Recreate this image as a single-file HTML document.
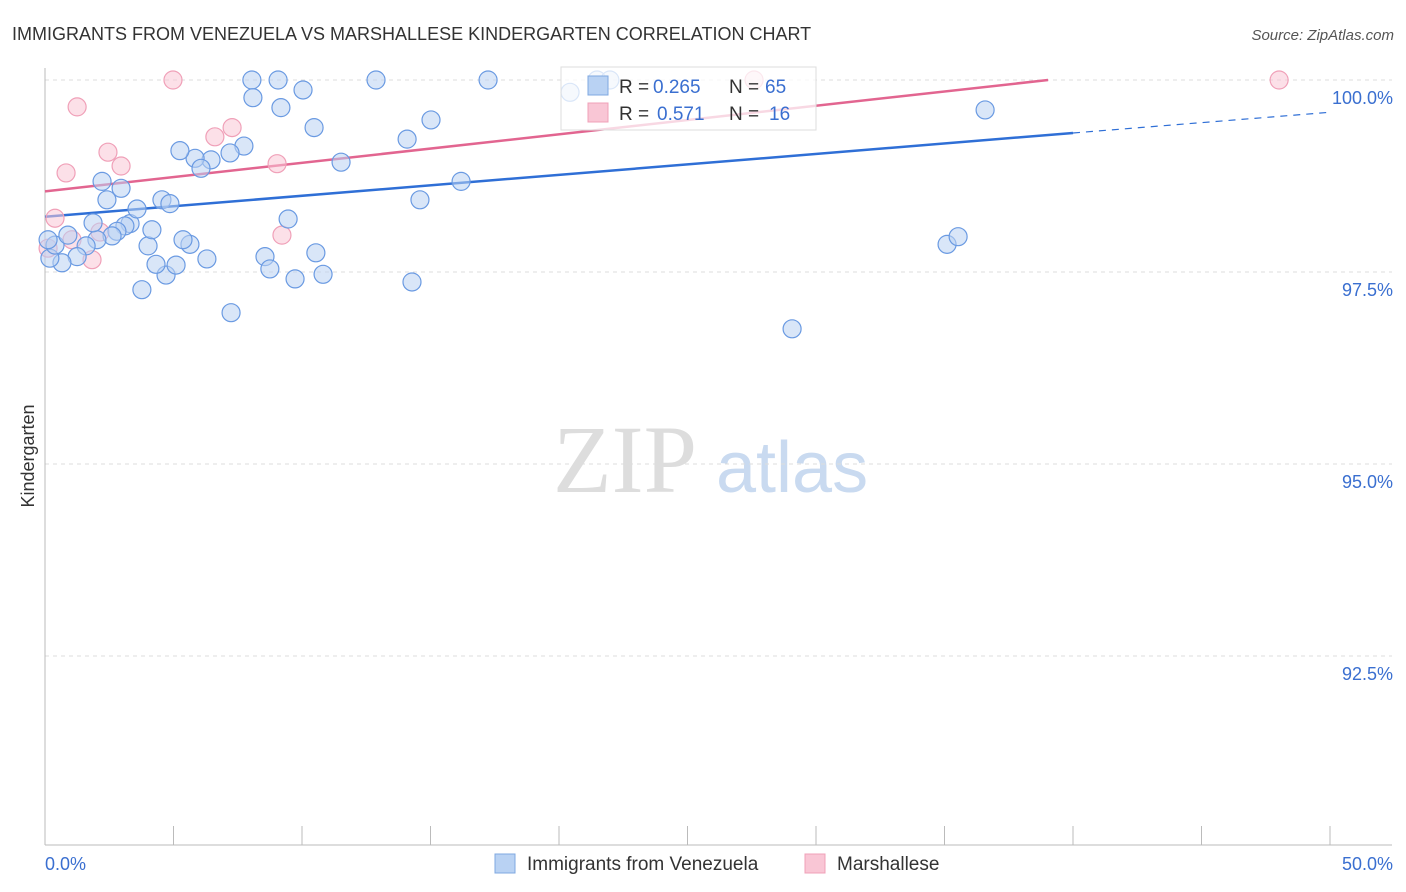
<!DOCTYPE html>
<html><head><meta charset="utf-8"><style>
body{margin:0;background:#fff;font-family:"Liberation Sans",sans-serif;}
svg{display:block}
</style></head><body>
<svg id="chart" width="1406" height="892" xmlns="http://www.w3.org/2000/svg">
<text x="12" y="40" font-size="18" fill="#333">IMMIGRANTS FROM VENEZUELA VS MARSHALLESE KINDERGARTEN CORRELATION CHART</text>
<text x="1394" y="40" font-size="15" fill="#555" font-style="italic" text-anchor="end">Source: ZipAtlas.com</text>
<g>
<text x="553" y="492" font-size="96" font-family="Liberation Serif,serif" fill="#ddd">ZIP</text>
<text x="716" y="492" font-size="72" fill="#c9daf0">atlas</text>
</g>
<g id="grid"></g>
<g id="axes"></g>
<g id="trends"></g>
<g id="points"></g>
<g>
<rect x="561" y="67" width="255" height="63" fill="#fff" fill-opacity="0.75" stroke="#ddd"/>
<rect x="588" y="76" width="20" height="19" fill="#b9d2f3" stroke="#7fa8e0"/>
<rect x="588" y="103" width="20" height="19" fill="#f9c6d5" stroke="#f0a0b8"/>
<text x="619" y="93" font-size="19" fill="#333">R =</text>
<text x="653" y="93" font-size="19" fill="#3a6fd0">0.265</text>
<text x="729" y="93" font-size="19" fill="#333">N =</text>
<text x="765" y="93" font-size="19" fill="#3a6fd0">65</text>
<text x="619" y="120" font-size="19" fill="#333">R =</text>
<text x="657" y="120" font-size="19" fill="#3a6fd0">0.571</text>
<text x="729" y="120" font-size="19" fill="#333">N =</text>
<text x="769" y="120" font-size="19" fill="#3a6fd0">16</text>
</g>
<g>
<rect x="495" y="854" width="20" height="19" fill="#b9d2f3" stroke="#7fa8e0"/>
<text x="527" y="870" font-size="19" fill="#333">Immigrants from Venezuela</text>
<rect x="805" y="854" width="20" height="19" fill="#f9c6d5" stroke="#f0a0b8"/>
<text x="837" y="870" font-size="19" fill="#333">Marshallese</text>
</g>
<text transform="translate(34,456) rotate(-90)" font-size="18" fill="#333" text-anchor="middle">Kindergarten</text>
</svg>
<script>
const yTicks=[100,97.5,95,92.5];
const yTickLabels=["100.0%","97.5%","95.0%","92.5%"];
const blueX=[8.05,9.07,12.88,17.24,8.09,9.18,10.04,10.47,11.52,7.74,7.20,6.46,5.84,5.25,6.07,14.09,15.02,16.19,14.59,9.46,10.54,8.56,8.75,9.73,10.82,14.28,7.24,3.77,4.71,5.10,4.32,6.30,5.64,5.37,4.01,4.16,3.31,3.11,2.80,2.61,2.02,1.60,1.25,0.66,0.19,0.39,0.89,1.87,2.41,2.96,2.22,3.58,4.55,4.86,20.43,21.48,21.98,36.58,35.10,35.53,29.07,0.12];
const blueY=[100,100,100,100,99.77,99.64,99.87,99.38,98.93,99.14,99.05,98.96,98.98,99.08,98.85,99.23,99.48,98.68,98.44,98.19,97.75,97.70,97.54,97.41,97.47,97.37,96.97,97.27,97.46,97.59,97.60,97.67,97.86,97.92,97.84,98.05,98.13,98.10,98.03,97.97,97.92,97.84,97.70,97.62,97.68,97.85,97.98,98.14,98.44,98.59,98.68,98.32,98.44,98.39,99.84,100,100,99.61,97.86,97.96,96.76,97.92];
const pinkX=[4.98,1.25,0.82,2.45,2.96,6.61,7.28,9.03,9.22,1.83,0.39,2.14,0.12,27.59,48.02,1.05];
const pinkY=[100,99.65,98.79,99.06,98.88,99.26,99.38,98.91,97.98,97.66,98.20,98.02,97.81,100,100,97.92];
const blueTrend=[[0,98.22],[40,99.31],[50,99.58]];
const pinkTrend=[[0,98.55],[39.03,100]];
const NS="http://www.w3.org/2000/svg";
const X0=45,X1=1330,Y100=80,PXPER=76.8;
const sx=v=>X0+v/50*(X1-X0);
const sy=v=>Y100+(100-v)*PXPER;
function mk(t,a,p){const e=document.createElementNS(NS,t);for(const k in a)e.setAttribute(k,a[k]);p.appendChild(e);return e;}
const grid=document.getElementById('grid'),axes=document.getElementById('axes');
yTicks.forEach((t,i)=>{
 const l=mk('line',{x1:X0,x2:1392,y1:sy(t),y2:sy(t),stroke:'#ddd','stroke-dasharray':'4,4'},grid);
 
 
 const tx=mk('text',{x:1393,y:sy(t)+24,'font-size':18,fill:'#3a6fd0','text-anchor':'end'},axes);
 tx.textContent=yTickLabels[i];
 
 
});
mk('line',{x1:X0,x2:X0,y1:68,y2:845,stroke:'#bbb'},axes);
mk('line',{x1:X0,x2:1392,y1:845,y2:845,stroke:'#bbb'},axes);
for(let i=0;i<=10;i++){const t=mk('line',{x1:sx(i*5),x2:sx(i*5),y1:826,y2:845,stroke:'#bbb'},axes);
 
 }
const xl0=mk('text',{x:45,y:870,'font-size':18,fill:'#3a6fd0'},axes);xl0.textContent='0.0%';


const xl1=mk('text',{x:1393,y:870,'font-size':18,fill:'#3a6fd0','text-anchor':'end'},axes);xl1.textContent='50.0%';


const pts=document.getElementById('points');
pinkX.forEach((x,i)=>{const c=mk('circle',{cx:sx(x),cy:sy(pinkY[i]),r:9,fill:'#f9c6d5','fill-opacity':0.55,stroke:'#f0a0b8','stroke-width':1.2},pts);
 
 });
blueX.forEach((x,i)=>{const c=mk('circle',{cx:sx(x),cy:sy(blueY[i]),r:9,fill:'#b9d2f3','fill-opacity':0.55,stroke:'#6a9ae2','stroke-width':1.2},pts);
 
 });
const tr=document.getElementById('trends');
const b1=mk('line',{x1:sx(blueTrend[0][0]),y1:sy(blueTrend[0][1]),x2:sx(blueTrend[1][0]),y2:sy(blueTrend[1][1]),stroke:'#2f6fd6','stroke-width':2.5},tr);


const b2=mk('line',{x1:sx(blueTrend[1][0]),y1:sy(blueTrend[1][1]),x2:sx(blueTrend[2][0]),y2:sy(blueTrend[2][1]),stroke:'#2f6fd6','stroke-width':1.2,'stroke-dasharray':'7,6'},tr);


const p1=mk('line',{x1:sx(pinkTrend[0][0]),y1:sy(pinkTrend[0][1]),x2:sx(pinkTrend[1][0]),y2:sy(pinkTrend[1][1]),stroke:'#e26590','stroke-width':2.5},tr);


</script>
</body></html>
